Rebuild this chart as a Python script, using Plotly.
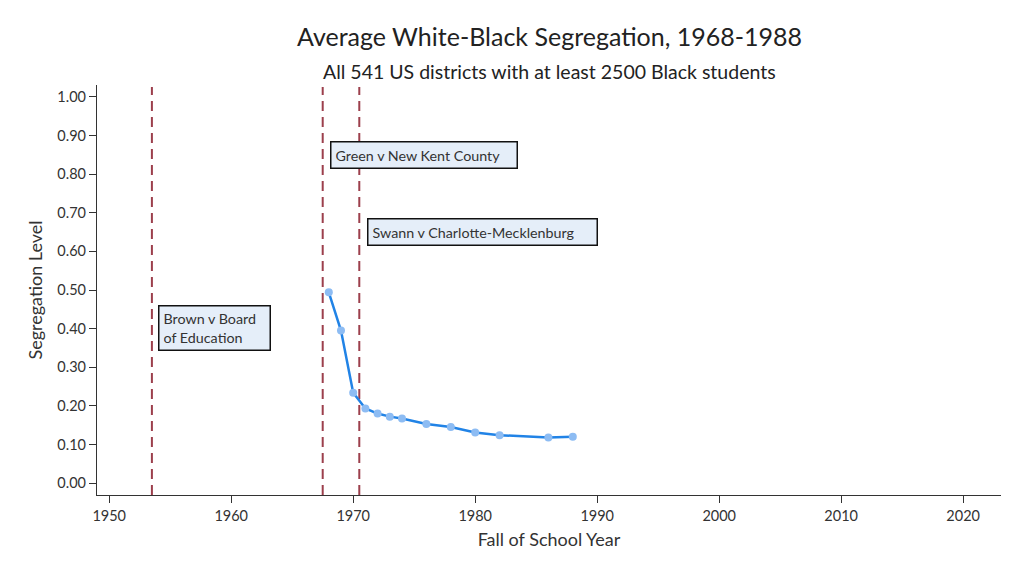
import plotly.graph_objects as go

years = [1968, 1969, 1970, 1971, 1972, 1973, 1974, 1976, 1978, 1980, 1982, 1986, 1988]
segregation = [0.494, 0.395, 0.234, 0.193, 0.180, 0.172, 0.167, 0.153, 0.145, 0.131, 0.124, 0.118, 0.120]

event_years = [1953.5, 1967.5, 1970.5]
event_labels = ["Brown v Board<br>of Education", "Green v New Kent County", "Swann v Charlotte-Mecklenburg"]
label_x = [1954.0, 1968.1, 1971.1]
label_y = [0.461, 0.886, 0.687]
label_w = [102, 177, 220]
label_h = [35, 17, 17]

y_ticks = [i / 10 for i in range(11)]
x_ticks = [1950, 1960, 1970, 1980, 1990, 2000, 2010, 2020]

title_text = "Average White-Black Segregation, 1968-1988"
subtitle_text = "All 541 US districts with at least 2500 Black students"

FONT = "Lato, Open Sans, sans-serif"

fig = go.Figure()
fig.add_trace(go.Scatter(
    x=years, y=segregation, mode="lines+markers",
    line=dict(color="#2183e6", width=2.5),
    marker=dict(color="#8dbcf3", size=8),
    showlegend=False,
))

for ey in event_years:
    fig.add_shape(type="line", xref="x", yref="paper", x0=ey, x1=ey, y0=0, y1=0.995,
                  line=dict(color="#9c3f4c", width=2, dash="10px,6px"), layer="below")

for txt, x, y, w, h in zip(event_labels, label_x, label_y, label_w, label_h):
    fig.add_annotation(x=x, y=y, xref="x", yref="y", text=txt, showarrow=False,
                       xanchor="left", yanchor="top", align="left", width=w, height=h,
                       bgcolor="#e5eef9", bordercolor="#111111", borderwidth=1.5, borderpad=4,
                       font=dict(family=FONT, size=14.3, color="#333333"))

fig.add_annotation(x=0.5, y=1.1195, xref="paper", yref="paper", text=title_text, showarrow=False,
                   xanchor="center", yanchor="middle", font=dict(family=FONT, size=25, color="#222222"))
fig.add_annotation(x=0.5, y=1.034, xref="paper", yref="paper", text=subtitle_text, showarrow=False,
                   xanchor="center", yanchor="middle", font=dict(family=FONT, size=19.5, color="#222222"))

fig.update_layout(
    width=1024, height=576,
    margin=dict(l=89, r=31, t=77, b=89, autoexpand=False),
    paper_bgcolor="white", plot_bgcolor="white",
    font=dict(family=FONT, color="#333333"),
    xaxis=dict(
        range=[1949.0, 2023.1], tickvals=x_ticks, ticks="outside", ticklen=7, automargin=False,
        tickcolor="#333333", showline=True, linecolor="#333333", linewidth=1.2,
        showgrid=False, zeroline=False, tickfont=dict(size=14.5, color="#333333"),
        title=dict(text="Fall of School Year", font=dict(size=18, color="#333333"), standoff=10),
    ),
    yaxis=dict(
        range=[-0.031, 1.031], tickvals=y_ticks, tickformat=".2f", ticks="outside", ticklen=7, automargin=False,
        tickcolor="#333333", showline=True, linecolor="#333333", linewidth=1.2,
        showgrid=False, zeroline=False, tickfont=dict(size=14.5, color="#333333"),
        title=dict(text="Segregation Level", font=dict(size=18, color="#333333"), standoff=10),
    ),
)

fig.write_html("out.html")
